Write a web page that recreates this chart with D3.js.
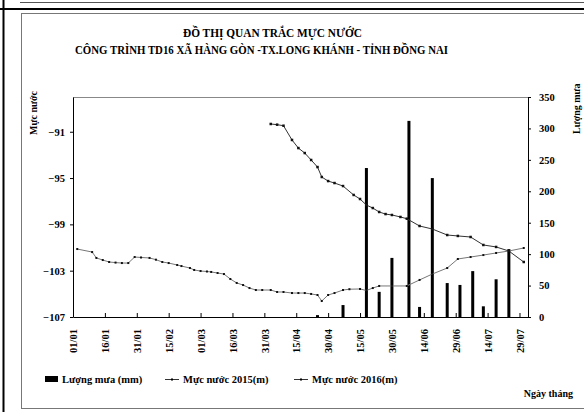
<!DOCTYPE html>
<html>
<head>
<meta charset="utf-8">
<script src="https://cdn.jsdelivr.net/npm/d3@7"></script>
<style>
  html, body { margin: 0; padding: 0; background: #fff; }
  svg { display: block; font-family: "Liberation Serif", "Times New Roman", serif; font-weight: bold; }
</style>
</head>
<body>
<div id="chart"></div>
<script>
// data (year 2016, dd/mm)
const tickLabels = ["01/01","16/01","31/01","15/02","01/03","16/03","31/03","15/04","30/04","15/05","30/05","14/06","29/06","14/07","29/07"];

const lowDates = ["03/01","10/01","12/01","15/01","18/01","21/01","24/01","27/01","30/01","02/02","06/02","09/02","12/02","15/02","19/02","21/02","25/02","27/02","01/03","04/03","06/03","09/03","12/03","15/03","18/03","21/03","24/03","27/03","30/03","03/04","06/04","09/04","13/04","16/04","19/04","22/04","25/04","27/04","30/04","03/05","07/05","10/05","15/05","18/05","21/05","24/05","30/05","06/06","12/06","18/06","25/06","30/06","06/07","12/07","18/07","24/07","31/07"];
const lowLevels = [-101.13,-101.39,-101.9,-102.08,-102.25,-102.3,-102.34,-102.34,-101.82,-101.86,-101.9,-102.05,-102.25,-102.34,-102.51,-102.6,-102.77,-102.94,-103.03,-103.07,-103.11,-103.2,-103.29,-103.72,-104.06,-104.24,-104.5,-104.67,-104.67,-104.67,-104.84,-104.84,-104.93,-104.93,-104.93,-105.01,-105.1,-105.62,-105.1,-104.93,-104.67,-104.6,-104.58,-104.71,-104.5,-104.32,-104.32,-104.32,-103.8,-103.29,-102.77,-101.99,-101.82,-101.65,-101.47,-101.3,-101.04];

const highDates = ["03/04","06/04","09/04","13/04","16/04","19/04","22/04","25/04","27/04","30/04","03/05","07/05","12/05","15/05","18/05","21/05","24/05","27/05","30/05","03/06","06/06","12/06","18/06","25/06","30/06","06/07","12/07","18/07","24/07","31/07"];
const highLevels = [-90.33,-90.39,-90.48,-91.71,-92.41,-92.84,-93.44,-94.05,-94.91,-95.26,-95.43,-95.69,-96.46,-96.81,-97.33,-97.59,-97.93,-98.11,-98.19,-98.36,-98.51,-99.14,-99.4,-99.92,-100.0,-100.09,-100.78,-100.95,-101.3,-102.25];

const rainDates = ["25/04","07/05","18/05","24/05","30/05","07/06","12/06","18/06","25/06","01/07","07/07","12/07","18/07","24/07"];
const rainMm = [3,19,237,40,94,312,16,221,54,51,73,17,60,108];

const leftTicks = [-107,-103,-99,-95,-91];
const rightTicks = [0,50,100,150,200,250,300,350];

const parse = s => d3.timeParse("%d/%m/%Y")(s + "/2016");

const W = 584, H = 412;
const svg = d3.select("#chart").append("svg").attr("width", W).attr("height", H);

// page frame
svg.append("line").attr("x1", 3.5).attr("x2", 3.5).attr("y1", 0).attr("y2", H).attr("stroke", "#000").attr("stroke-width", 2);
svg.append("line").attr("x1", 20).attr("x2", W).attr("y1", 2.5).attr("y2", 2.5).attr("stroke", "#555");
svg.append("line").attr("x1", 0).attr("x2", W).attr("y1", 9).attr("y2", 9).attr("stroke", "#000").attr("stroke-width", 2);
svg.append("rect").attr("x", 21.5).attr("y", 13.5).attr("width", W).attr("height", 395)
  .attr("fill", "none").attr("stroke", "#777");

// scales
const x = d3.scaleTime().domain([new Date(2016,0,1), new Date(2016,7,2)]).range([73, 528]);
const yL = d3.scaleLinear().domain([-107, -88]).range([317, 97]);
const yR = d3.scaleLinear().domain([0, 350]).range([317, 97]);

// plot top border
svg.append("line").attr("x1", 73).attr("x2", 528).attr("y1", 97.5).attr("y2", 97.5).attr("stroke", "#888");

// bars (rain)
svg.append("g").selectAll("rect")
  .data(rainDates.map((d, i) => ({ date: parse(d), v: rainMm[i] })))
  .join("rect")
  .attr("x", d => x(d.date) - 1.5)
  .attr("width", 3)
  .attr("y", d => yR(d.v))
  .attr("height", d => yR(0) - yR(d.v))
  .attr("fill", "#000");

// lines
function drawSeries(dates, vals, stroke, marker) {
  const pts = dates.map((d, i) => ({ date: parse(d), v: vals[i] }));
  svg.append("path").datum(pts)
    .attr("fill", "none").attr("stroke", stroke).attr("stroke-width", 1)
    .attr("d", d3.line().x(d => x(d.date)).y(d => yL(d.v)));
  svg.append("g").selectAll("rect").data(pts).join("rect")
    .attr("x", d => x(d.date) - marker / 2).attr("y", d => yL(d.v) - marker / 2)
    .attr("width", marker).attr("height", marker).attr("fill", "#111");
}
drawSeries(lowDates, lowLevels, "#777", 2);
drawSeries(highDates, highLevels, "#333", 2.5);

// axes
const xAxis = svg.append("g").attr("transform", "translate(0,317)")
  .call(d3.axisBottom(x).tickValues(tickLabels.map(parse)).tickFormat(d3.timeFormat("%d/%m")).tickSizeInner(-4).tickSizeOuter(0));
xAxis.selectAll("text")
  .attr("transform", "rotate(-90)")
  .attr("text-anchor", "end")
  .attr("x", -12).attr("y", 0).attr("dy", "0.35em");

const leftAxis = svg.append("g").attr("transform", "translate(73,0)")
  .call(d3.axisLeft(yL).tickValues(leftTicks).tickSizeInner(3).tickSizeOuter(0).tickPadding(5));
const rightAxis = svg.append("g").attr("transform", "translate(528,0)")
  .call(d3.axisRight(yR).tickValues(rightTicks).tickSizeInner(3).tickSizeOuter(0).tickPadding(8));

[xAxis, leftAxis, rightAxis].forEach(g => {
  g.selectAll("text").attr("font-size", 10.5).attr("font-family", "Liberation Serif").attr("font-weight", "bold").attr("fill", "#000");
  g.select(".domain").attr("stroke", "#000");
});

// titles
svg.append("text").attr("x", 183).attr("y", 37).attr("font-size", 12)
  .attr("textLength", 179).attr("lengthAdjust", "spacingAndGlyphs")
  .text("ĐỒ THỊ QUAN TRẮC MỰC NƯỚC");
svg.append("text").attr("x", 75).attr("y", 54).attr("font-size", 12)
  .attr("textLength", 373).attr("lengthAdjust", "spacingAndGlyphs")
  .text("CÔNG TRÌNH TD16 XÃ HÀNG GÒN -TX.LONG KHÁNH - TỈNH ĐỒNG NAI");

svg.append("text").attr("transform", "translate(37,135) rotate(-90)").attr("font-size", 10)
  .text("Mực nước");
svg.append("text").attr("transform", "translate(580,134) rotate(-90)").attr("font-size", 10)
  .text("Lượng mưa");
svg.append("text").attr("x", 573).attr("y", 397).attr("text-anchor", "end").attr("font-size", 10)
  .text("Ngày tháng");

// legend
const lg = svg.append("g").attr("font-size", 10.5);
lg.append("rect").attr("x", 45).attr("y", 376).attr("width", 13).attr("height", 6).attr("fill", "#000");
lg.append("text").attr("x", 62).attr("y", 383).text("Lượng mưa (mm)");
[[165, "Mực nước 2015(m)"], [294, "Mực nước 2016(m)"]].forEach(([lx, label]) => {
  lg.append("line").attr("x1", lx).attr("x2", lx + 14).attr("y1", 379.5).attr("y2", 379.5).attr("stroke", "#333");
  lg.append("rect").attr("x", lx + 6).attr("y", 378.5).attr("width", 2).attr("height", 2).attr("fill", "#000");
  lg.append("text").attr("x", lx + 18).attr("y", 383).text(label);
});
</script>
</body>
</html>
